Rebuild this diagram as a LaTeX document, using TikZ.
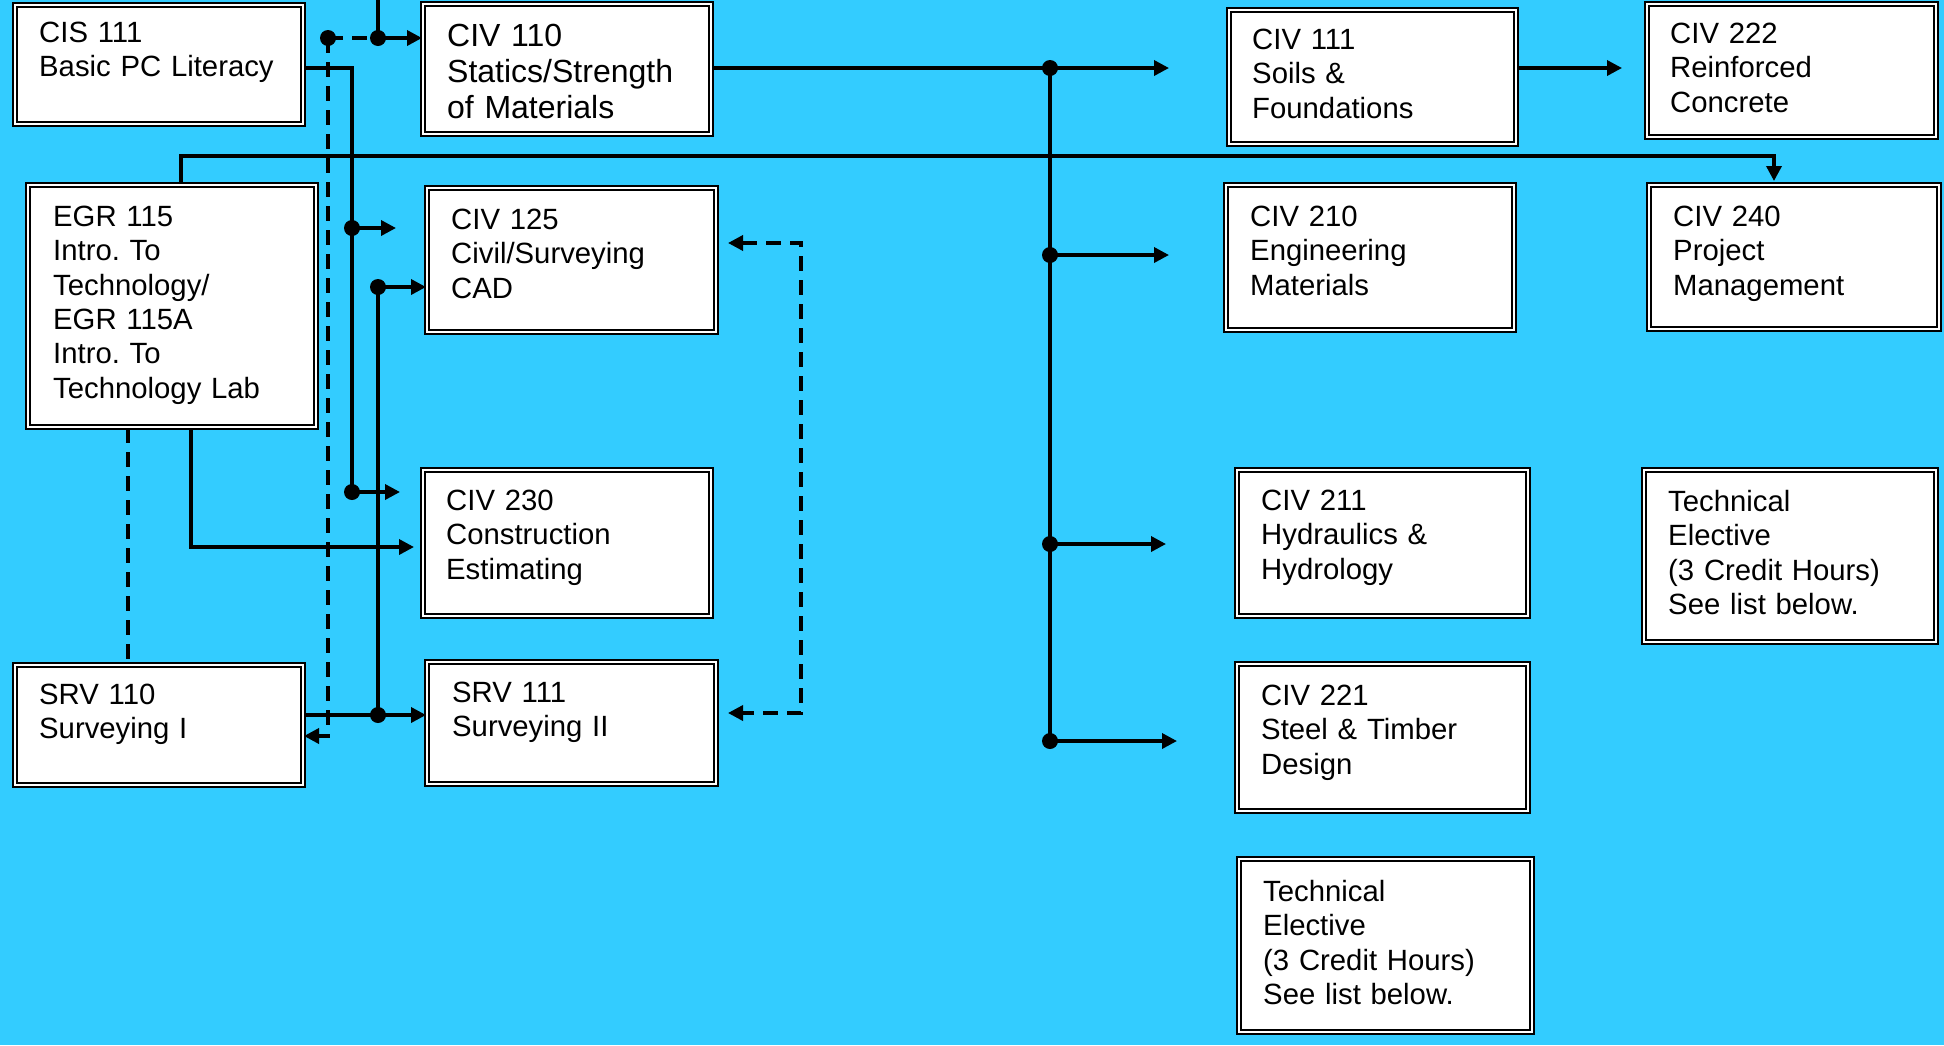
\documentclass[tikz,border=0pt]{standalone}
\usepackage{fontspec}
\setmainfont{Liberation Sans}
\usetikzlibrary{arrows.meta}
\definecolor{bgblue}{RGB}{51,204,255}
\frenchspacing
\newcommand\mkcourse[9]{%
  \node[course, minimum width={(#4-#2-6.4)*1pt}, minimum height={(#5-#3-6.4)*1pt}] (#1) at ({(#2+#4)/2},{(#3+#5)/2}) {};
  \node[ctext,#9] (#1-t) at (#6,#7) {#8};
}
\begin{document}
\begin{tikzpicture}[x=1pt,y=-1pt,
  course/.style={draw=black, double=white, double distance=1.6pt, line width=2.4pt, fill=white, inner sep=0pt, anchor=center},
  ctext/.style={anchor=north west, inner sep=0pt, align=left, text width=285pt, font=\fontsize{29.3pt}{34.3pt}\selectfont\frenchspacing},
  bigtext/.style={font=\fontsize{32pt}{36pt}\selectfont\frenchspacing},
  conn/.style={line width=3.5pt, line join=miter},
  dconn/.style={line width=3.5pt, dash pattern=on 15pt off 9pt},
  >={Triangle[length=15pt,width=15pt]},
  dot/.style={fill=black}
]
\useasboundingbox (0,0) rectangle (1944,1045);
\fill[bgblue] (0,0) rectangle (1944,1045);

% boxes
\mkcourse{cis}{12}{2}{306}{127}{39}{22}{CIS 111\\Basic PC Literacy}{}
\mkcourse{civ110}{420}{1}{714}{137}{447}{24}{CIV 110\\Statics/Strength\\of Materials}{bigtext}
\mkcourse{egr}{25}{182}{319}{430}{53}{206}{EGR 115\\Intro. To\\Technology/\\EGR 115A\\Intro. To\\Technology Lab}{}
\mkcourse{civ125}{424}{185}{719}{335}{451}{209}{CIV 125\\Civil/Surveying\\CAD}{}
\mkcourse{civ230}{420}{467}{714}{619}{446}{490}{CIV 230\\Construction\\Estimating}{}
\mkcourse{srv110}{12}{662}{306}{788}{39}{684}{SRV 110\\Surveying I}{}
\mkcourse{srv111}{424}{659}{719}{787}{452}{682}{SRV 111\\Surveying II}{}
\mkcourse{civ111}{1226}{7}{1519}{147}{1252}{29}{CIV 111\\Soils \&\\Foundations}{}
\mkcourse{civ222}{1644}{1}{1939}{140}{1670}{23}{CIV 222\\Reinforced\\Concrete}{}
\mkcourse{civ210}{1223}{182}{1517}{333}{1250}{206}{CIV 210\\Engineering\\Materials}{}
\mkcourse{civ240}{1646}{182}{1942}{332}{1673}{206}{CIV 240\\Project\\Management}{}
\mkcourse{civ211}{1234}{467}{1531}{619}{1261}{490}{CIV 211\\Hydraulics \&\\Hydrology}{}
\mkcourse{te1}{1641}{467}{1939}{645}{1668}{490}{Technical\\Elective\\(3 Credit Hours)\\See list below.}{}
\mkcourse{civ221}{1234}{661}{1531}{814}{1261}{685}{CIV 221\\Steel \& Timber\\Design}{}
\mkcourse{te2}{1236}{856}{1535}{1035}{1263}{880}{Technical\\Elective\\(3 Credit Hours)\\See list below.}{}

% junction coordinates
\coordinate (top1) at (378,0);
\coordinate (d1) at (378,38);
\coordinate (d0) at (328,38);
\coordinate (sv) at (328,736);
\coordinate (c1) at (352,68);
\coordinate (d2) at (352,228);
\coordinate (d3) at (352,492);
\coordinate (d4) at (378,287);
\coordinate (d5) at (378,715);
\coordinate (e1) at (181,156);
\coordinate (e2) at (1774,156);
\coordinate (e3) at (128,545);
\coordinate (e4) at (191,547);
\coordinate (k1) at (801,243);
\coordinate (k2) at (801,713);
\coordinate (f1) at (1050,68);
\coordinate (f2) at (1050,255);
\coordinate (f3) at (1050,544);
\coordinate (f4) at (1050,741);

% connectors
\draw[conn] (top1) -- (d1);
\draw[conn,->] (d1) -- (d1 -| civ110.west);
\draw[dconn] (d0) -- (d1);
\draw[dconn,->] (d0) -- (d0 |- sv) -- (sv -| srv110.east);

\draw[conn] (c1 -| cis.east) -- (c1) -- (d3);
\draw[conn,->,shorten >=30pt] (d2) -- (d2 -| civ125.west);
\draw[conn,->,shorten >=22pt] (d3) -- (d3 -| civ230.west);

\draw[conn] (srv110.east |- d5) -- (d5) -- (d4);
\draw[conn,->] (d5) -- (d5 -| srv111.west);
\draw[conn,->] (d4) -- (d4 -| civ125.west);

\draw[conn,->,shorten >=3pt] (e1 |- egr.north) -- (e1) -- (e2) -- (e2 |- civ240.north);
\draw[dconn] (e3 |- egr.south) -- (e3 |- srv110.north);
\draw[conn,->,shorten >=8pt] (e4 |- egr.south) -- (e4) -- (e4 -| civ230.west);

\draw[dconn,<->,shorten >=11pt,shorten <=11pt] (k1 -| civ125.east) -- (k1) -- (k2) -- (k2 -| srv111.east);

\draw[conn] (civ110.east |- f1) -- (f1) -- (f4);
\draw[conn,->,shorten >=59pt] (f1) -- (f1 -| civ111.west);
\draw[conn,->,shorten >=56pt] (f2) -- (f2 -| civ210.west);
\draw[conn,->,shorten >=70pt] (f3) -- (f3 -| civ211.west);
\draw[conn,->,shorten >=59pt] (f4) -- (f4 -| civ221.west);
\draw[conn,->,shorten >=24pt] (civ111.east |- f1) -- (f1 -| civ222.west);

% dots
\foreach \p in {d0,d1,d2,d3,d4,d5,f1,f2,f3,f4} \fill[dot] (\p) circle (8pt);
\end{tikzpicture}
\end{document}
